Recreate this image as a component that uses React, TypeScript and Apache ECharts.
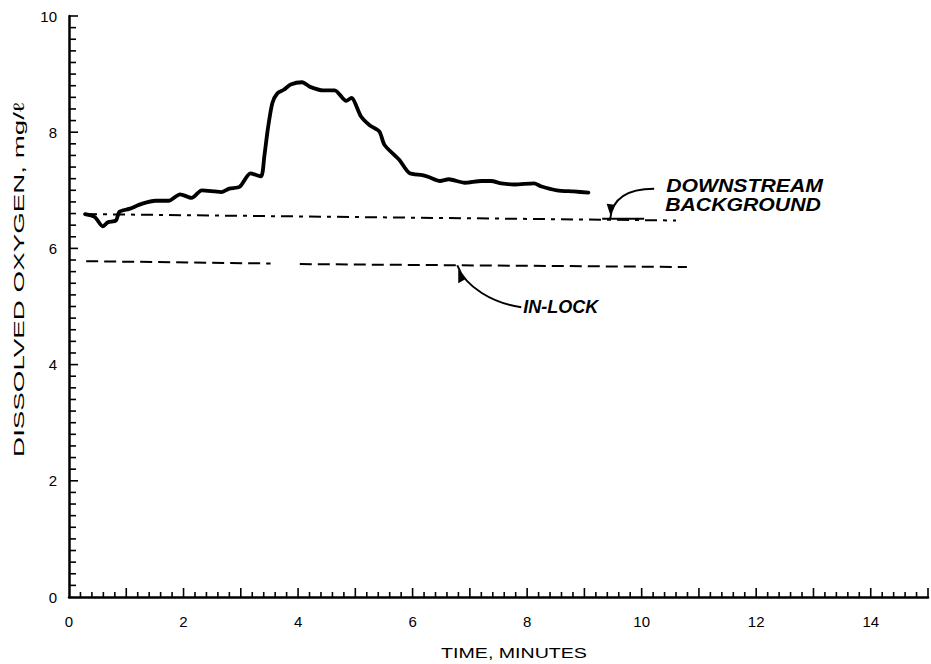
import { useEffect, useRef } from "react";
import * as echarts from "echarts";

// Dissolved-oxygen trace (time in minutes, DO in mg/l)
const traceTime = [
  0.28, 0.45, 0.59, 0.68, 0.82, 0.88, 1.05, 1.28, 1.51, 1.74, 1.94, 2.14, 2.32, 2.55,
  2.66, 2.8, 2.98, 3.17, 3.35, 3.41, 3.47, 3.55, 3.64, 3.75, 3.87, 4.07, 4.21, 4.44,
  4.64, 4.84, 4.93, 5.1, 5.25, 5.42, 5.51, 5.77, 5.94, 6.17, 6.28, 6.48, 6.63, 6.91,
  7.2, 7.37, 7.55, 7.78, 8.12, 8.24, 8.52, 8.81, 9.07,
];
const traceDO = [
  6.59, 6.54, 6.38, 6.45, 6.48, 6.63, 6.68, 6.77, 6.82, 6.82, 6.93, 6.87, 7.0, 6.98,
  6.97, 7.03, 7.06, 7.29, 7.24, 7.58, 8.04, 8.5, 8.67, 8.73, 8.82, 8.86, 8.78, 8.72,
  8.72, 8.54, 8.59, 8.27, 8.12, 8.01, 7.78, 7.52, 7.3, 7.26, 7.23, 7.16, 7.19, 7.13,
  7.16, 7.16, 7.12, 7.1, 7.12, 7.07, 7.0, 6.98, 6.96,
];

// Downstream background level
const backgroundTime = [0.28, 10.6];
const backgroundDO = [6.59, 6.48];

// In-lock level (null marks the break in the line)
const inLockTime = [0.3, 3.52, 3.78, 4.03, 10.79];
const inLockDO: (number | null)[] = [5.78, 5.74, null, 5.73, 5.68];

// Axis label values
const xTickLabels = [0, 2, 4, 6, 8, 10, 12, 14];
const yTickLabels = [0, 2, 4, 6, 8, 10];

const FONT = '"Liberation Sans", Arial, Helvetica, sans-serif';
const X_MIN = 0;
const X_MAX = 15;
const Y_MIN = 0;
const Y_MAX = 10;
const MINOR_STEP = 0.2;

export default function App() {
  const ref = useRef<HTMLDivElement>(null);

  useEffect(() => {
    if (!ref.current) return;
    const chart = echarts.init(ref.current, undefined, { renderer: "svg" });

    const tracePoints = traceTime.map((t, i) => [t, traceDO[i]]);
    const bgPoints = backgroundTime.map((t, i) => [t, backgroundDO[i]]);
    const inLockPoints = inLockTime.map((t, i) => [t, inLockDO[i] === null ? "-" : inLockDO[i]]);

    const axisText = { color: "#000", fontFamily: FONT, fontSize: 15 };

    chart.setOption({
      animation: false,
      backgroundColor: "#fff",
      grid: { left: 69, top: 16, width: 870, height: 581, containLabel: false },
      xAxis: {
        type: "value",
        min: X_MIN,
        max: X_MAX,
        interval: 1,
        splitLine: { show: false },
        axisLine: { show: true, lineStyle: { color: "#000", width: 2.5 } },
        axisTick: { show: false },
        axisLabel: {
          ...axisText,
          margin: 17,
          formatter: (v: number) => (xTickLabels.includes(v) ? String(v) : ""),
        },
      },
      yAxis: {
        type: "value",
        min: Y_MIN,
        max: Y_MAX,
        interval: 2,
        splitLine: { show: false },
        axisLine: { show: true, lineStyle: { color: "#000", width: 2.5 } },
        axisTick: { show: false },
        axisLabel: {
          ...axisText,
          margin: 12,
          formatter: (v: number) => (yTickLabels.includes(v) ? String(v) : ""),
        },
      },
      series: [
        {
          name: "Dissolved oxygen",
          type: "line",
          data: tracePoints,
          showSymbol: false,
          smooth: 0.25,
          lineStyle: { color: "#000", width: 3.8, cap: "round", join: "round" },
        },
        {
          name: "Downstream background",
          type: "line",
          data: bgPoints,
          showSymbol: false,
          lineStyle: { color: "#000", width: 2, type: [12, 6, 4, 6] },
        },
        {
          name: "In-lock",
          type: "line",
          data: inLockPoints,
          showSymbol: false,
          connectNulls: false,
          lineStyle: { color: "#000", width: 2, type: [12, 6] },
        },
      ],
    });

    const px = (x: number, y: number) => chart.convertToPixel({ gridIndex: 0 }, [x, y]) as number[];

    // Inward-pointing tick marks every 0.2 unit, taller at whole minutes on the time axis
    const ticks: any[] = [];
    const nx = Math.round((X_MAX - X_MIN) / MINOR_STEP);
    for (let k = 1; k <= nx; k++) {
      const v = X_MIN + k * MINOR_STEP;
      const p = px(v, Y_MIN);
      if (p[0] > 930) break;
      const len = k % 5 === 0 ? 9 : 5;
      ticks.push({
        type: "line",
        shape: { x1: p[0], y1: p[1], x2: p[0], y2: p[1] - len },
        style: { stroke: "#000", lineWidth: 1.6 },
      });
    }
    const ny = Math.round((Y_MAX - Y_MIN) / MINOR_STEP);
    for (let k = 1; k <= ny; k++) {
      const v = Y_MIN + k * MINOR_STEP;
      const p = px(X_MIN, v);
      const len = k % 10 === 0 ? 9 : 7;
      ticks.push({
        type: "line",
        shape: { x1: p[0], y1: p[1], x2: p[0] + len, y2: p[1] },
        style: { stroke: "#000", lineWidth: 1.6 },
      });
    }

    // Leader arrow to the downstream background line
    const ds = px(9.45, 6.51);
    // Leader arrow to the in-lock line
    const il = px(6.78, 5.71);

    const labelFont = `italic bold 18px ${FONT}`;

    chart.setOption({
      graphic: [
        ...ticks,
        {
          type: "bezierCurve",
          shape: {
            x1: ds[0] + 44, y1: ds[1] - 30,
            cpx1: ds[0] + 16, cpx2: ds[0] + 2,
            cpy1: ds[1] - 30, cpy2: ds[1] - 20,
            x2: ds[0], y2: ds[1],
          },
          style: { stroke: "#000", lineWidth: 2, fill: null },
        },
        {
          type: "polygon",
          shape: {
            points: [
              [ds[0] - 3.5, ds[1] - 15],
              [ds[0] + 4.5, ds[1] - 14],
              [ds[0], ds[1] - 4],
            ],
          },
          style: { fill: "#000" },
        },
        {
          type: "line",
          shape: { x1: ds[0] - 8, y1: ds[1], x2: ds[0] + 34, y2: ds[1] },
          style: { stroke: "#000", lineWidth: 2 },
        },
        {
          type: "bezierCurve",
          shape: {
            x1: il[0] + 64, y1: il[1] + 42,
            cpx1: il[0] + 36, cpy1: il[1] + 38,
            cpx2: il[0] + 8, cpy2: il[1] + 22,
            x2: il[0], y2: il[1],
          },
          style: { stroke: "#000", lineWidth: 2, fill: null },
        },
        {
          type: "polygon",
          shape: {
            points: [
              [il[0] + 1, il[1] + 18],
              [il[0] + 8, il[1] + 14],
              [il[0] + 1, il[1] + 4],
            ],
          },
          style: { fill: "#000" },
        },
        {
          type: "text",
          x: ds[0] + 56,
          y: ds[1] - 33,
          scaleX: 1.18,
          style: { text: "DOWNSTREAM", font: labelFont, fill: "#000", textVerticalAlign: "middle" },
        },
        {
          type: "text",
          x: ds[0] + 55,
          y: ds[1] - 14,
          scaleX: 1.18,
          style: { text: "BACKGROUND", font: labelFont, fill: "#000", textVerticalAlign: "middle" },
        },
        {
          type: "text",
          x: il[0] + 66,
          y: il[1] + 42,
          scaleX: 1.0,
          style: { text: "IN-LOCK", font: labelFont, fill: "#000", textVerticalAlign: "middle" },
        },
        {
          type: "text",
          x: 514,
          y: 653,
          scaleX: 1.4,
          style: {
            text: "TIME, MINUTES",
            font: `14px ${FONT}`,
            fill: "#000",
            textAlign: "center",
            textVerticalAlign: "middle",
          },
        },
        {
          type: "text",
          x: 19,
          y: 280,
          rotation: Math.PI / 2,
          scaleX: 1.85,
          style: {
            text: "DISSOLVED OXYGEN, mg/ℓ",
            font: `15px ${FONT}`,
            fill: "#000",
            textAlign: "center",
            textVerticalAlign: "middle",
          },
        },
      ],
    });

    return () => chart.dispose();
  }, []);

  return (
    <div
      ref={ref}
      style={{ position: "absolute", left: 0, top: 0, width: 931, height: 664, background: "#fff" }}
    />
  );
}
